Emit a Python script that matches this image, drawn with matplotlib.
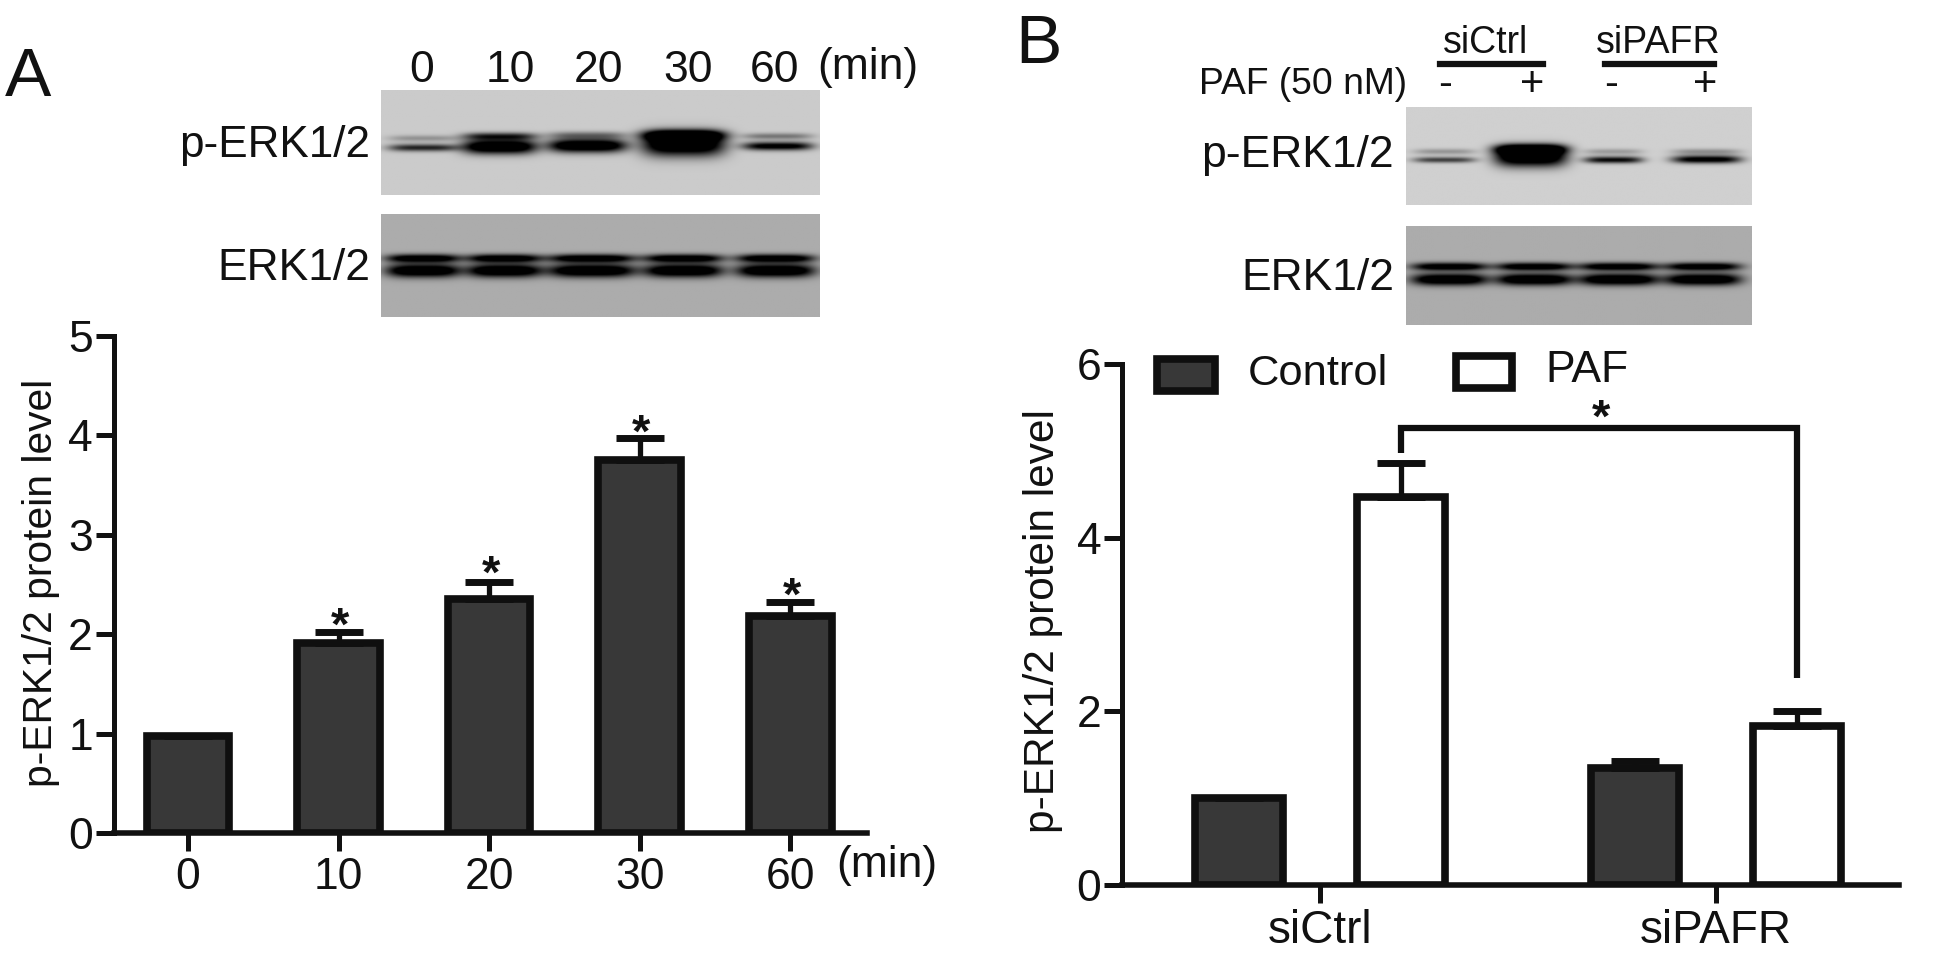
import numpy as np
import matplotlib
matplotlib.use("Agg")
import matplotlib.pyplot as plt
from matplotlib.patches import Rectangle

plt.rcParams["font.family"] = ["Liberation Sans", "DejaVu Sans"]

W, H = 1936, 956
INK = "#111111"
BAR = "#383838"
EDGE = "#0f0f0f"

# panel A bars
min_labels = ["0", "10", "20", "30", "60"]
a_vals = [0.98, 1.91, 2.35, 3.75, 2.18]
a_tops = [np.nan, 2.02, 2.53, 3.97, 2.32]
a_stars = [np.nan, 2.07, 2.59, 4.01, 2.37]

# panel B bars
groups = ["siCtrl", "siPAFR"]
b_control = [1.0, 1.35]
b_control_tops = [np.nan, 1.43]
b_paf = [4.47, 1.83]
b_paf_tops = [4.86, 2.0]

# blots: lane x, lane half width, then (y, half height, darkness) for lower and upper band
# all in fractions of the blot box
a1_x = [0.095, 0.27, 0.47, 0.69, 0.905]
a1_w = [0.08, 0.085, 0.09, 0.095, 0.08]
a1_low = [(0.55, 0.035, 0.6), (0.54, 0.07, 1.0), (0.53, 0.065, 1.0), (0.52, 0.11, 1.0), (0.535, 0.04, 0.8)]
a1_up = [(0.46, 0.03, 0.2), (0.44, 0.035, 0.55), (0.43, 0.035, 0.3), (0.43, 0.05, 0.9), (0.44, 0.03, 0.3)]

a2_x = [0.095, 0.28, 0.48, 0.69, 0.90]
a2_w = [0.085, 0.085, 0.1, 0.09, 0.09]
a2_low = [(0.55, 0.065, 1.0)] * 5
a2_up = [(0.43, 0.04, 0.9)] * 5

b1_x = [0.11, 0.36, 0.60, 0.87]
b1_w = [0.09, 0.105, 0.085, 0.10]
b1_low = [(0.54, 0.03, 0.5), (0.51, 0.1, 1.0), (0.54, 0.035, 0.7), (0.535, 0.04, 0.8)]
b1_up = [(0.455, 0.03, 0.2), (0.43, 0.05, 0.9), (0.455, 0.03, 0.18), (0.455, 0.03, 0.22)]

b2_x = [0.125, 0.37, 0.615, 0.86]
b2_w = [0.11, 0.11, 0.115, 0.11]
b2_low = [(0.54, 0.06, 1.0)] * 4
b2_up = [(0.41, 0.04, 0.9)] * 4


def fx(x):
    return x / W


def fy(y):
    return 1 - y / H


def px_axes(x0, y0, x1, y1):
    return fig.add_axes([fx(x0), fy(y1), (x1 - x0) / W, (y1 - y0) / H])


def blot(box, bg, xs, ws, low, up):
    ax = px_axes(*box)
    yy, xx = np.mgrid[0:1:200j, 0:1:300j]
    dark = np.zeros_like(xx)
    for x, w, a, b in zip(xs, ws, low, up):
        for y, h, d in (a, b):
            dark = dark + d * 1.4 * np.exp(-((xx - x) / w) ** 4 - ((yy - y) / h) ** 2)
    img = bg * (1 - np.clip(dark, 0, 1))
    ax.imshow(img, cmap="gray", vmin=0, vmax=255, aspect="auto", interpolation="bilinear")
    ax.axis("off")


def label(x, y, s, size=32, ha="center"):
    fig.text(fx(x), fy(y), s, fontsize=size, ha=ha, va="center", color=INK)


def style(ax):
    ax.spines["top"].set_visible(False)
    ax.spines["right"].set_visible(False)
    ax.spines["left"].set_linewidth(3.6)
    ax.spines["bottom"].set_linewidth(4)
    ax.spines["left"].set_color(INK)
    ax.spines["bottom"].set_color(INK)
    ax.tick_params(length=13, width=3.6, color=INK, labelsize=32, labelcolor=INK)
    ax.tick_params(axis="y", pad=2)
    ax.tick_params(axis="x", pad=4)
    ax.patch.set_alpha(0)


fig = plt.figure(figsize=(W / 100, H / 100), dpi=100)

# panel A
ax_a = px_axes(113.6, 336, 867, 833)
pos_a = np.arange(len(a_vals))
ax_a.bar(pos_a, a_vals, 0.55, color=BAR, edgecolor=EDGE, linewidth=5.5)
ax_a.errorbar(pos_a, a_vals, yerr=[np.zeros(5), np.array(a_tops) - np.array(a_vals)], fmt="none",
              ecolor=EDGE, elinewidth=3.8, capsize=17, capthick=5, zorder=1)
for p, s in zip(pos_a, a_stars):
    if not np.isnan(s):
        ax_a.text(p + 0.01, s, "*", fontsize=34, fontweight="bold", ha="center", va="center", color=INK)
ax_a.set_xlim(-0.494, 4.51)
ax_a.set_ylim(0, 5)
ax_a.set_xticks(pos_a)
ax_a.set_xticklabels(min_labels)
ax_a.set_yticks(range(6))
style(ax_a)

# panel B
ax_b = px_axes(1122, 364, 1899, 885)
pos_b = np.arange(len(groups))
off = 0.205
bw = 0.222
ax_b.bar(pos_b - off, b_control, bw, color=BAR, edgecolor=EDGE, linewidth=5.5)
ax_b.bar(pos_b + off, b_paf, bw, color="white", edgecolor=EDGE, linewidth=5.5)
for xs, vals, tops in ((pos_b - off, b_control, b_control_tops), (pos_b + off, b_paf, b_paf_tops)):
    ax_b.errorbar(xs, vals, yerr=[np.zeros(2), np.array(tops) - np.array(vals)], fmt="none",
                  ecolor=EDGE, elinewidth=3.8, capsize=17, capthick=5, zorder=1)
ax_b.plot([off, off, 1 + off, 1 + off], [4.98, 5.26, 5.26, 2.38], color=EDGE, lw=4.5,
          solid_joinstyle="miter", solid_capstyle="butt")
ax_b.text(0.71, 5.36, "*", fontsize=34, fontweight="bold", ha="center", va="center", color=INK)
ax_b.set_xlim(-0.5, 1.462)
ax_b.set_ylim(0, 6)
ax_b.set_xticks(pos_b)
ax_b.set_xticklabels(groups, fontsize=33)
ax_b.set_yticks([0, 2, 4, 6])
style(ax_b)
ax_b.tick_params(axis="x", labelsize=33)

# legend of panel B
fig.add_artist(Rectangle((fx(1157), fy(391)), 58 / W, 32 / H, transform=fig.transFigure,
                         facecolor=BAR, edgecolor=EDGE, linewidth=5.5))
fig.add_artist(Rectangle((fx(1456), fy(388)), 56 / W, 32 / H, transform=fig.transFigure,
                         facecolor="white", edgecolor=EDGE, linewidth=5.5))
label(1248, 374, "Control", 31.2, "left")
label(1545, 370, "PAF", 32, "left")

# blots
blot((381, 90, 820, 195), 203, a1_x, a1_w, a1_low, a1_up)
blot((381, 214, 820, 317), 172, a2_x, a2_w, a2_low, a2_up)
blot((1406, 107, 1751, 205), 208, b1_x, b1_w, b1_low, b1_up)
blot((1406, 226, 1751, 325), 172, b2_x, b2_w, b2_low, b2_up)

# panel letters
label(5, 78, "A", 50, "left")
label(1015, 45, "B", 50, "left")

# text around the blots
for x, s in zip([422, 510, 598, 688, 775], min_labels):
    label(x, 70, s, 32)
label(817, 68, "(min)", 32, "left")
label(370, 146, "p-ERK1/2", 31.7, "right")
label(370, 268, "ERK1/2", 32, "right")
label(1394, 155, "p-ERK1/2", 32, "right")
label(1394, 278, "ERK1/2", 32, "right")
label(1486, 43, "siCtrl", 27)
label(1658, 43, "siPAFR", 27)
label(1407, 84, "PAF (50 nM)", 26.8, "right")
for x, s in zip([1445, 1532, 1611, 1705], ["-", "+", "-", "+"]):
    label(x, 85, s, 30)
for x0, x1 in ((1440, 1543), (1605, 1714)):
    fig.add_artist(plt.Line2D([fx(x0), fx(x1)], [fy(64), fy(64)], color=INK, lw=4.5))

# y titles and the x unit of panel A
fig.text(fx(41), fy(583), "p-ERK1/2 protein level", fontsize=29.3, rotation=90, ha="center", va="center", color=INK)
fig.text(fx(1043), fy(621), "p-ERK1/2 protein level", fontsize=30.5, rotation=90, ha="center", va="center", color=INK)
label(836, 866, "(min)", 32, "left")

fig.savefig("out.png", dpi=100, facecolor="white")
